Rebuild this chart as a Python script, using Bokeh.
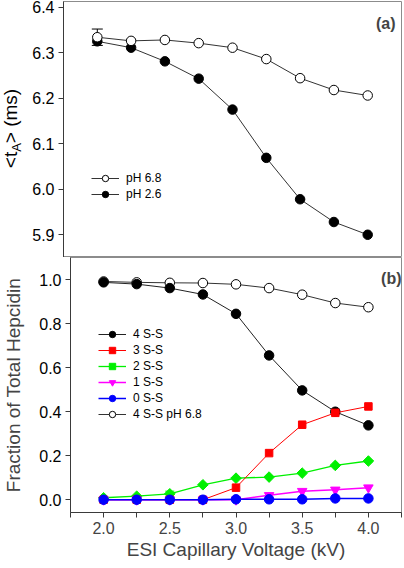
import math
from bokeh.plotting import figure
from bokeh.models import (Range1d, FixedTicker, NumeralTickFormatter, Legend, LegendItem,
                          Label, Whisker, ColumnDataSource, TeeHead, Div)
from bokeh.layouts import column, row
from bokeh.embed import file_html
from bokeh.resources import INLINE

# ---------------- data ----------------
voltage = [2.0, 2.25, 2.5, 2.75, 3.0, 3.25, 3.5, 3.75, 4.0]

ta_ph68 = [6.334, 6.326, 6.328, 6.321, 6.311, 6.286, 6.244, 6.218, 6.206]
ta_ph68_err = [0.018, 0, 0, 0, 0, 0, 0, 0, 0]
ta_ph26 = [6.325, 6.311, 6.281, 6.243, 6.175, 6.069, 5.978, 5.928, 5.900]

frac_4ss = [0.988, 0.980, 0.962, 0.933, 0.845, 0.656, 0.497, 0.400, 0.338]
frac_3ss = [0.0, 0.0, 0.0, 0.0, 0.055, 0.212, 0.341, 0.395, 0.424]
frac_2ss = [0.009, 0.016, 0.027, 0.068, 0.098, 0.103, 0.121, 0.156, 0.176]
frac_2ss_err = [0, 0, 0.012, 0, 0, 0, 0, 0, 0]
frac_1ss = [0.0, 0.0, 0.0, 0.0, 0.0, 0.020, 0.039, 0.045, 0.055]
frac_0ss = [0.0, 0.0, 0.0, 0.0, 0.002, 0.002, 0.002, 0.006, 0.006]
frac_4ss_ph68 = [0.992, 0.988, 0.986, 0.985, 0.979, 0.962, 0.932, 0.894, 0.875]

top_ticks = [5.9, 6.0, 6.1, 6.2, 6.3, 6.4]
bot_ticks = [0.0, 0.2, 0.4, 0.6, 0.8, 1.0]
x_ticks = [2.0, 2.5, 3.0, 3.5, 4.0]
x_minor = [1.75, 2.25, 2.75, 3.25, 3.75, 4.25]

# ---------------- style ----------------
FONT = "Liberation Sans"
W = 404
LEFT = 63
RIGHT = 3
DIV_W = 22
TOP_H = 257          # frame 1..257
BOT_FRAME = 255      # frame 257..512
BOT_BORDER = 56
FRAME_W = W - LEFT - RIGHT
OUTLINE = "#8c8c8c"
AXIS = "#3a3a3a"
X_RANGE = (1.75, 4.25)


def style_y(p, ticks):
    ax = p.yaxis[0]
    ax.ticker = FixedTicker(ticks=ticks)
    ax.formatter = NumeralTickFormatter(format="0.0")
    ax.major_tick_out = 5
    ax.major_tick_in = 0
    ax.minor_tick_line_color = None
    ax.major_tick_line_color = AXIS
    ax.axis_line_color = AXIS
    ax.major_label_text_font = FONT
    ax.major_label_text_font_size = "16px"
    ax.major_label_text_color = "black"
    ax.major_label_standoff = 4


def base_fig(width, height, yr, left, top_border, **kw):
    p = figure(width=width, height=height, x_range=Range1d(*X_RANGE), y_range=yr,
               output_backend="svg", toolbar_location=None,
               min_border_left=left, min_border_right=RIGHT, min_border_top=top_border, **kw)
    p.grid.visible = False
    p.outline_line_color = OUTLINE
    p.outline_line_width = 1
    p.background_fill_color = "white"
    p.border_fill_color = "white"
    return p


def make_legend(items, loc, spacing):
    return Legend(items=items, location=loc, background_fill_alpha=0,
                  border_line_color=None, padding=0, margin=0, spacing=spacing,
                  glyph_width=28, glyph_height=16, label_height=12, label_standoff=7,
                  label_text_font=FONT, label_text_font_size="12px",
                  label_text_color="black")


# ---------------- top panel ----------------
top = base_fig(W - DIV_W, TOP_H, Range1d(5.85, 6.4125), LEFT - DIV_W, 1,
               x_axis_type=None, min_border_bottom=0)
style_y(top, top_ticks)

src68 = ColumnDataSource(dict(x=[v for v, e in zip(voltage, ta_ph68_err) if e > 0],
                              up=[t + e for t, e in zip(ta_ph68, ta_ph68_err) if e > 0],
                              lo=[t - e for t, e in zip(ta_ph68, ta_ph68_err) if e > 0]))
top.add_layout(Whisker(source=src68, base="x", upper="up", lower="lo", level="underlay",
                       line_color="black", line_width=1,
                       upper_head=TeeHead(size=11, line_color="black", line_width=1),
                       lower_head=TeeHead(size=11, line_color="black", line_width=1)))

l68 = top.line(voltage, ta_ph68, line_color="#333333", line_width=1)
l26 = top.line(voltage, ta_ph26, line_color="#333333", line_width=1)
s26 = top.scatter(voltage, ta_ph26, marker="circle", size=9.5, fill_color="black",
                  line_color="black", line_width=1)
s68 = top.scatter(voltage, ta_ph68, marker="circle", size=9.5, fill_color="white",
                  line_color="black", line_width=1)

top.add_layout(make_legend([LegendItem(label="pH 6.8", renderers=[l68, s68]),
                            LegendItem(label="pH 2.6", renderers=[l26, s26])],
                           (28, 55), -2))

top.add_layout(Label(x=FRAME_W - 6, y=TOP_H - 1 - 22, x_units="screen", y_units="screen",
                     text="(a)", text_font=FONT, text_font_size="16px",
                     text_font_style="bold", text_align="right", text_baseline="middle"))

# rotated y label with a real subscript, as HTML text
ylabel_html = (
    f'<div style="width:{TOP_H}px;height:{DIV_W}px;line-height:{DIV_W}px;'
    f'transform-origin:0 0;transform:translate(0px,{TOP_H}px) rotate(-90deg);'
    f'text-align:center;white-space:nowrap;font-family:\'{FONT}\';font-size:19px;color:black;">'
    '&lt;t<span style="font-size:13px;vertical-align:-4px;line-height:0;">A</span>&gt; (ms)'
    '</div>'
)
ydiv = Div(text=ylabel_html, width=DIV_W, height=TOP_H, margin=0,
           styles={"overflow": "visible"})

# ---------------- bottom panel ----------------
bot = base_fig(W, BOT_FRAME + BOT_BORDER, Range1d(-0.058, 1.101), LEFT, 0,
               min_border_bottom=BOT_BORDER)
style_y(bot, bot_ticks)
ax = bot.yaxis[0]
ax.axis_label = "Fraction of Total Hepcidin"
ax.axis_label_text_font = FONT
ax.axis_label_text_font_size = "19px"
ax.axis_label_text_font_style = "normal"
ax.axis_label_standoff = 12

xa = bot.xaxis[0]
xa.ticker = FixedTicker(ticks=x_ticks, minor_ticks=x_minor)
xa.formatter = NumeralTickFormatter(format="0.0")
xa.major_tick_out = 5
xa.major_tick_in = 0
xa.minor_tick_out = 5
xa.minor_tick_in = 0
xa.major_tick_line_color = AXIS
xa.minor_tick_line_color = AXIS
xa.axis_line_color = AXIS
xa.major_label_text_font = FONT
xa.major_label_text_font_size = "16px"
xa.major_label_standoff = 4
xa.axis_label = "ESI Capillary Voltage (kV)"
xa.axis_label_text_font = FONT
xa.axis_label_text_font_size = "19px"
xa.axis_label_text_font_style = "normal"
xa.axis_label_standoff = 2

GREEN = "#00f000"
src2 = ColumnDataSource(dict(x=[v for v, e in zip(voltage, frac_2ss_err) if e > 0],
                             up=[t + e for t, e in zip(frac_2ss, frac_2ss_err) if e > 0],
                             lo=[t - e for t, e in zip(frac_2ss, frac_2ss_err) if e > 0]))
bot.add_layout(Whisker(source=src2, base="x", upper="up", lower="lo", level="underlay",
                       line_color=GREEN, line_width=1,
                       upper_head=TeeHead(size=9, line_color=GREEN, line_width=1),
                       lower_head=TeeHead(size=9, line_color=GREEN, line_width=1)))

b_lo = bot.line(voltage, frac_4ss_ph68, line_color="#333333", line_width=1)
b_so = bot.scatter(voltage, frac_4ss_ph68, marker="circle", size=9.5, fill_color="white",
                   line_color="black", line_width=1)
b_l4 = bot.line(voltage, frac_4ss, line_color="#222222", line_width=1)
b_s4 = bot.scatter(voltage, frac_4ss, marker="circle", size=9.5, fill_color="black",
                   line_color="black", line_width=1)
b_l2 = bot.line(voltage, frac_2ss, line_color=GREEN, line_width=1.3)
b_s2 = bot.scatter(voltage, frac_2ss, marker="square", angle=math.pi / 4, size=7.5,
                   fill_color=GREEN, line_color=GREEN, line_width=1)
b_l3 = bot.line(voltage, frac_3ss, line_color="red", line_width=1)
b_s3 = bot.scatter(voltage, frac_3ss, marker="square", size=7.5, fill_color="red",
                   line_color="red", line_width=1)
b_l1 = bot.line(voltage, frac_1ss, line_color="magenta", line_width=1.5)
b_s1 = bot.scatter(voltage, frac_1ss, marker="inverted_triangle", size=9.5,
                   fill_color="magenta", line_color="magenta", line_width=1)
b_l0 = bot.line(voltage, frac_0ss, line_color="blue", line_width=1.5)
b_s0 = bot.scatter(voltage, frac_0ss, marker="circle", size=9.5, fill_color="blue",
                   line_color="blue", line_width=1)

bot.add_layout(make_legend([
    LegendItem(label="4 S-S", renderers=[b_l4, b_s4]),
    LegendItem(label="3 S-S", renderers=[b_l3, b_s3]),
    LegendItem(label="2 S-S", renderers=[b_l2, b_s2]),
    LegendItem(label="1 S-S", renderers=[b_l1, b_s1]),
    LegendItem(label="0 S-S", renderers=[b_l0, b_s0]),
    LegendItem(label="4 S-S pH 6.8", renderers=[b_lo, b_so]),
], (28, 90), -1))

bot.add_layout(Label(x=FRAME_W - 7, y=BOT_FRAME - 21, x_units="screen", y_units="screen",
                     text="(b)", text_font=FONT, text_font_size="16px",
                     text_font_style="bold", text_align="right", text_baseline="middle"))

layout = column(row(ydiv, top, spacing=0), bot, spacing=0)
open("out.html", "w").write(file_html(layout, INLINE))
